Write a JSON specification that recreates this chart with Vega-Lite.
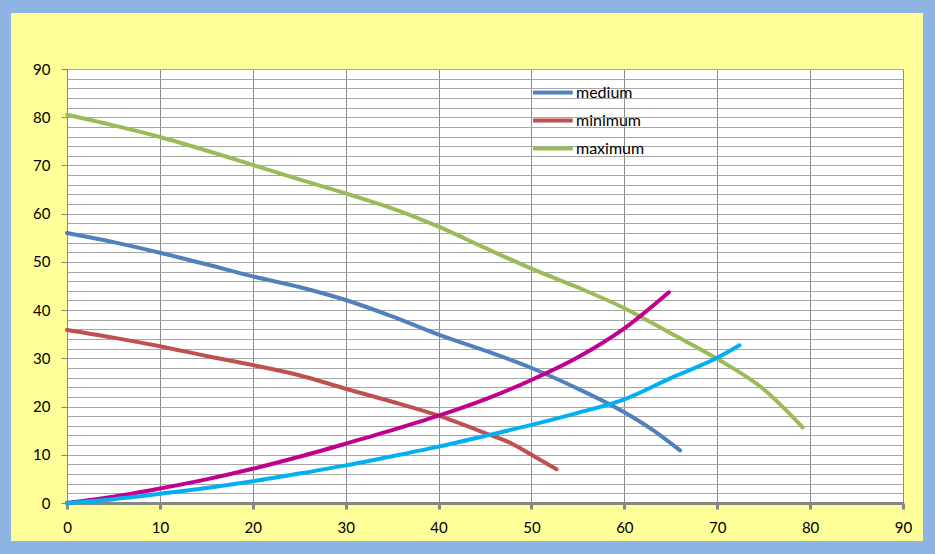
{
  "$schema": "https://vega.github.io/schema/vega-lite/v6.json",
  "width": 836,
  "height": 434,
  "autosize": {"type": "none"},
  "padding": {"left": 67, "top": 69, "right": 32, "bottom": 51},
  "background": "#FFFF99",
  "config": {"view": {"fill": "white", "stroke": null}, "font": "Lato"},
  "layer": [
    {
      "data": {"values": [{}]},
      "mark": {"type": "rect", "fill": "transparent", "stroke": "#8DB4E2", "strokeWidth": 30},
      "encoding": {
        "x": {"datum": -7.64, "type": "quantitative"},
        "x2": {"datum": 93.77},
        "y": {"datum": -10.99, "type": "quantitative"},
        "y2": {"datum": 104.73}
      }
    },
    {
      "data": {
        "values": [
          {"s": "maximum", "x": 0, "y": 80.5}, {"s": "maximum", "x": 5, "y": 78.3}, {"s": "maximum", "x": 10, "y": 75.9}, {"s": "maximum", "x": 15, "y": 73.1}, {"s": "maximum", "x": 20, "y": 70.1}, {"s": "maximum", "x": 25, "y": 67.1}, {"s": "maximum", "x": 30, "y": 64.2}, {"s": "maximum", "x": 35, "y": 61.1}, {"s": "maximum", "x": 40, "y": 57.3}, {"s": "maximum", "x": 45, "y": 52.9}, {"s": "maximum", "x": 50, "y": 48.6}, {"s": "maximum", "x": 55, "y": 44.7}, {"s": "maximum", "x": 60, "y": 40.4}, {"s": "maximum", "x": 65, "y": 35.2}, {"s": "maximum", "x": 70, "y": 29.9}, {"s": "maximum", "x": 75, "y": 23.6}, {"s": "maximum", "x": 79.2, "y": 15.7},
          {"s": "medium", "x": 0, "y": 56}, {"s": "medium", "x": 5, "y": 54.1}, {"s": "medium", "x": 10, "y": 51.9}, {"s": "medium", "x": 15, "y": 49.5}, {"s": "medium", "x": 20, "y": 47.0}, {"s": "medium", "x": 25, "y": 44.8}, {"s": "medium", "x": 30, "y": 42.1}, {"s": "medium", "x": 35, "y": 38.7}, {"s": "medium", "x": 40, "y": 34.9}, {"s": "medium", "x": 45, "y": 31.6}, {"s": "medium", "x": 50, "y": 28.0}, {"s": "medium", "x": 55, "y": 23.7}, {"s": "medium", "x": 60, "y": 18.8}, {"s": "medium", "x": 63, "y": 15.2}, {"s": "medium", "x": 66, "y": 10.9},
          {"s": "minimum", "x": 0, "y": 35.9}, {"s": "minimum", "x": 5, "y": 34.3}, {"s": "minimum", "x": 10, "y": 32.5}, {"s": "minimum", "x": 15, "y": 30.5}, {"s": "minimum", "x": 20, "y": 28.6}, {"s": "minimum", "x": 25, "y": 26.5}, {"s": "minimum", "x": 30, "y": 23.7}, {"s": "minimum", "x": 35, "y": 21.0}, {"s": "minimum", "x": 40, "y": 18.1}, {"s": "minimum", "x": 45, "y": 14.5}, {"s": "minimum", "x": 48, "y": 12.2}, {"s": "minimum", "x": 50, "y": 10.0}, {"s": "minimum", "x": 52.7, "y": 7.0},
          {"s": "system 1", "x": 0, "y": 0}, {"s": "system 1", "x": 5, "y": 1.3}, {"s": "system 1", "x": 10, "y": 3.0}, {"s": "system 1", "x": 15, "y": 4.9}, {"s": "system 1", "x": 20, "y": 7.1}, {"s": "system 1", "x": 25, "y": 9.6}, {"s": "system 1", "x": 30, "y": 12.3}, {"s": "system 1", "x": 35, "y": 15.1}, {"s": "system 1", "x": 40, "y": 18.1}, {"s": "system 1", "x": 45, "y": 21.5}, {"s": "system 1", "x": 50, "y": 25.5}, {"s": "system 1", "x": 55, "y": 30.2}, {"s": "system 1", "x": 60, "y": 36.2}, {"s": "system 1", "x": 64.8, "y": 43.7},
          {"s": "system 2", "x": 0, "y": 0}, {"s": "system 2", "x": 5, "y": 0.8}, {"s": "system 2", "x": 10, "y": 1.9}, {"s": "system 2", "x": 15, "y": 3.1}, {"s": "system 2", "x": 20, "y": 4.5}, {"s": "system 2", "x": 25, "y": 6.1}, {"s": "system 2", "x": 30, "y": 7.8}, {"s": "system 2", "x": 35, "y": 9.7}, {"s": "system 2", "x": 40, "y": 11.7}, {"s": "system 2", "x": 45, "y": 13.9}, {"s": "system 2", "x": 50, "y": 16.2}, {"s": "system 2", "x": 55, "y": 18.7}, {"s": "system 2", "x": 60, "y": 21.5}, {"s": "system 2", "x": 65, "y": 25.9}, {"s": "system 2", "x": 70, "y": 30.1}, {"s": "system 2", "x": 72.4, "y": 32.7}
        ]
      },
      "mark": {"type": "line", "interpolate": "monotone", "strokeWidth": 4, "strokeCap": "round"},
      "encoding": {
        "x": {
          "field": "x", "type": "quantitative",
          "scale": {"domain": [0, 90], "nice": false, "zero": false},
          "axis": {
            "title": null, "values": [0, 10, 20, 30, 40, 50, 60, 70, 80, 90], "grid": true, "tickCount": 20,
            "gridColor": "#8C8C8C", "gridWidth": 1,
            "domainColor": "#868686", "domainWidth": 3,
            "tickColor": "#868686", "tickWidth": 3, "tickSize": 6,
            "labelFontSize": 15, "labelColor": "#000000", "labelPadding": 11, "labelFont": "Lato",
            "labelOverlap": false, "labelFlush": false
          }
        },
        "y": {
          "field": "y", "type": "quantitative",
          "scale": {"domain": [0, 90], "nice": false, "zero": false},
          "axis": {
            "title": null, "grid": true, "tickCount": 60,
            "values": [0, 2, 4, 6, 8, 10, 12, 14, 16, 18, 20, 22, 24, 26, 28, 30, 32, 34, 36, 38, 40, 42, 44, 46, 48, 50, 52, 54, 56, 58, 60, 62, 64, 66, 68, 70, 72, 74, 76, 78, 80, 82, 84, 86, 88, 90],
            "labelExpr": "datum.value % 10 === 0 ? datum.label : ''",
            "labelOverlap": false, "labelFlush": false,
            "gridColor": "#A6A6A6", "gridWidth": 1,
            "domainColor": "#868686", "domainWidth": 1,
            "tickColor": "#868686", "tickSize": 6,
            "tickOpacity": {"condition": {"test": "datum.value % 10 === 0", "value": 1}, "value": 0},
            "labelFontSize": 15, "labelColor": "#000000", "labelPadding": 11, "labelFont": "Lato"
          }
        },
        "color": {
          "field": "s", "type": "nominal",
          "scale": {"domain": ["medium", "minimum", "maximum", "system 1", "system 2"], "range": ["#4F81BD", "#C0504D", "#9BBB59", "#C0008F", "#00B0F0"]},
          "legend": {
            "values": ["medium", "minimum", "maximum"],
            "title": null, "orient": "none", "legendX": 464, "legendY": 14,
            "padding": 0, "rowPadding": 10,
            "symbolType": "M-1,0H4.3", "symbolSize": 225, "symbolStrokeWidth": 4,
            "labelFontSize": 16, "labelFont": "Lato", "labelColor": "#000000", "labelOffset": 26
          }
        }
      }
    }
  ]
}
